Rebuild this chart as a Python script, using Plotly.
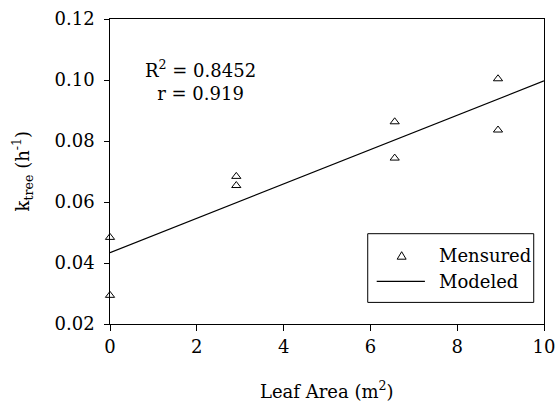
import plotly.graph_objects as go

# Data
leaf_area = [0.0, 0.0, 2.91, 2.91, 6.56, 6.56, 8.94, 8.94]
k_tree = [0.0484, 0.0294, 0.0684, 0.0654, 0.0863, 0.0744, 0.1004, 0.0836]
model_x = [0.0, 10.0]
model_y = [0.0434, 0.0997]

x_ticks = [0, 2, 4, 6, 8, 10]
y_ticks = [0.02, 0.04, 0.06, 0.08, 0.10, 0.12]
y_tick_labels = ["0.02", "0.04", "0.06", "0.08", "0.10", "0.12"]

FONT = "DejaVu Serif"
FS = 18

fig = go.Figure()
fig.add_trace(go.Scatter(x=model_x, y=model_y, mode="lines",
                         line=dict(color="black", width=1.2),
                         name="Modeled", showlegend=False))
fig.add_trace(go.Scatter(x=leaf_area, y=k_tree, mode="markers",
                         marker=dict(symbol="triangle-up-open", size=8,
                                     color="black", line=dict(width=1, color="black")),
                         name="Mensured", showlegend=False, cliponaxis=False))

fig.update_layout(
    width=558, height=405,
    margin=dict(l=109.5, r=13.7, t=19.3, b=80.7, autoexpand=False),
    paper_bgcolor="white", plot_bgcolor="white",
    font=dict(family=FONT, size=FS, color="black"),
    showlegend=False,
)
fig.update_xaxes(range=[0, 10], tickvals=x_ticks, ticks="outside", ticklen=6,
                 tickwidth=1, tickcolor="black", showline=True, linecolor="black",
                 linewidth=1, mirror=True, showgrid=False, zeroline=False,
                 automargin=False, tickfont=dict(family=FONT, size=FS))
fig.update_yaxes(range=[0.02, 0.12], tickvals=y_ticks,
                 ticktext=[t + "\u00a0" for t in y_tick_labels],
                 ticks="outside", ticklen=5, tickwidth=1, tickcolor="black",
                 showline=True, linecolor="black", linewidth=1, mirror=True,
                 showgrid=False, zeroline=False, automargin=False,
                 tickfont=dict(family=FONT, size=FS))

# Axis titles
fig.add_annotation(xref="paper", yref="paper", x=0.5, y=0, yshift=-66,
                   text="Leaf Area (m<sup>2</sup>)", showarrow=False,
                   font=dict(family=FONT, size=FS), xanchor="center", yanchor="middle")
fig.add_annotation(xref="paper", yref="paper", x=0, y=0.5, xshift=-88,
                   text="k<sub>tree</sub> (h<sup>-1</sup>)", showarrow=False, textangle=-90,
                   font=dict(family=FONT, size=FS), xanchor="center", yanchor="middle")

# R^2 annotation
fig.add_annotation(xref="paper", yref="paper", x=(200 - 109.5) / 434.8, y=1, yshift=-61,
                   text="R<sup>2</sup> = 0.8452<br>r = 0.919", showarrow=False,
                   font=dict(family=FONT, size=FS), align="center",
                   xanchor="center", yanchor="middle")

# Manual legend box (pixel positions converted to paper coords)
W, H = 434.8, 305.0
def px(x):
    return (x - 109.5) / W
def py(y):
    return (324.3 - y) / H

fig.add_shape(type="rect", xref="paper", yref="paper",
              x0=px(367.7), x1=px(534), y0=py(302.7), y1=py(234),
              line=dict(color="black", width=1), fillcolor="white", layer="above")
fig.add_shape(type="line", xref="paper", yref="paper",
              x0=px(376.7), x1=px(425), y0=py(281.7), y1=py(281.7),
              line=dict(color="black", width=1.2), layer="above")
# triangle legend symbol
cx, cy = 401.7, 256.5
fig.add_shape(type="path", xref="paper", yref="paper",
              path=f"M {px(cx-4.5)},{py(cy+3)} L {px(cx+4.5)},{py(cy+3)} L {px(cx)},{py(cy-4.5)} Z",
              line=dict(color="black", width=1), layer="above")
fig.add_annotation(xref="paper", yref="paper", x=px(437), y=py(256), text="Mensured",
                   showarrow=False, xanchor="left", yanchor="middle",
                   font=dict(family=FONT, size=FS))
fig.add_annotation(xref="paper", yref="paper", x=px(437), y=py(281.7), text="Modeled",
                   showarrow=False, xanchor="left", yanchor="middle",
                   font=dict(family=FONT, size=FS))

fig.write_html("out.html", config={"displayModeBar": False},
               post_script="document.body.style.margin='0';")
